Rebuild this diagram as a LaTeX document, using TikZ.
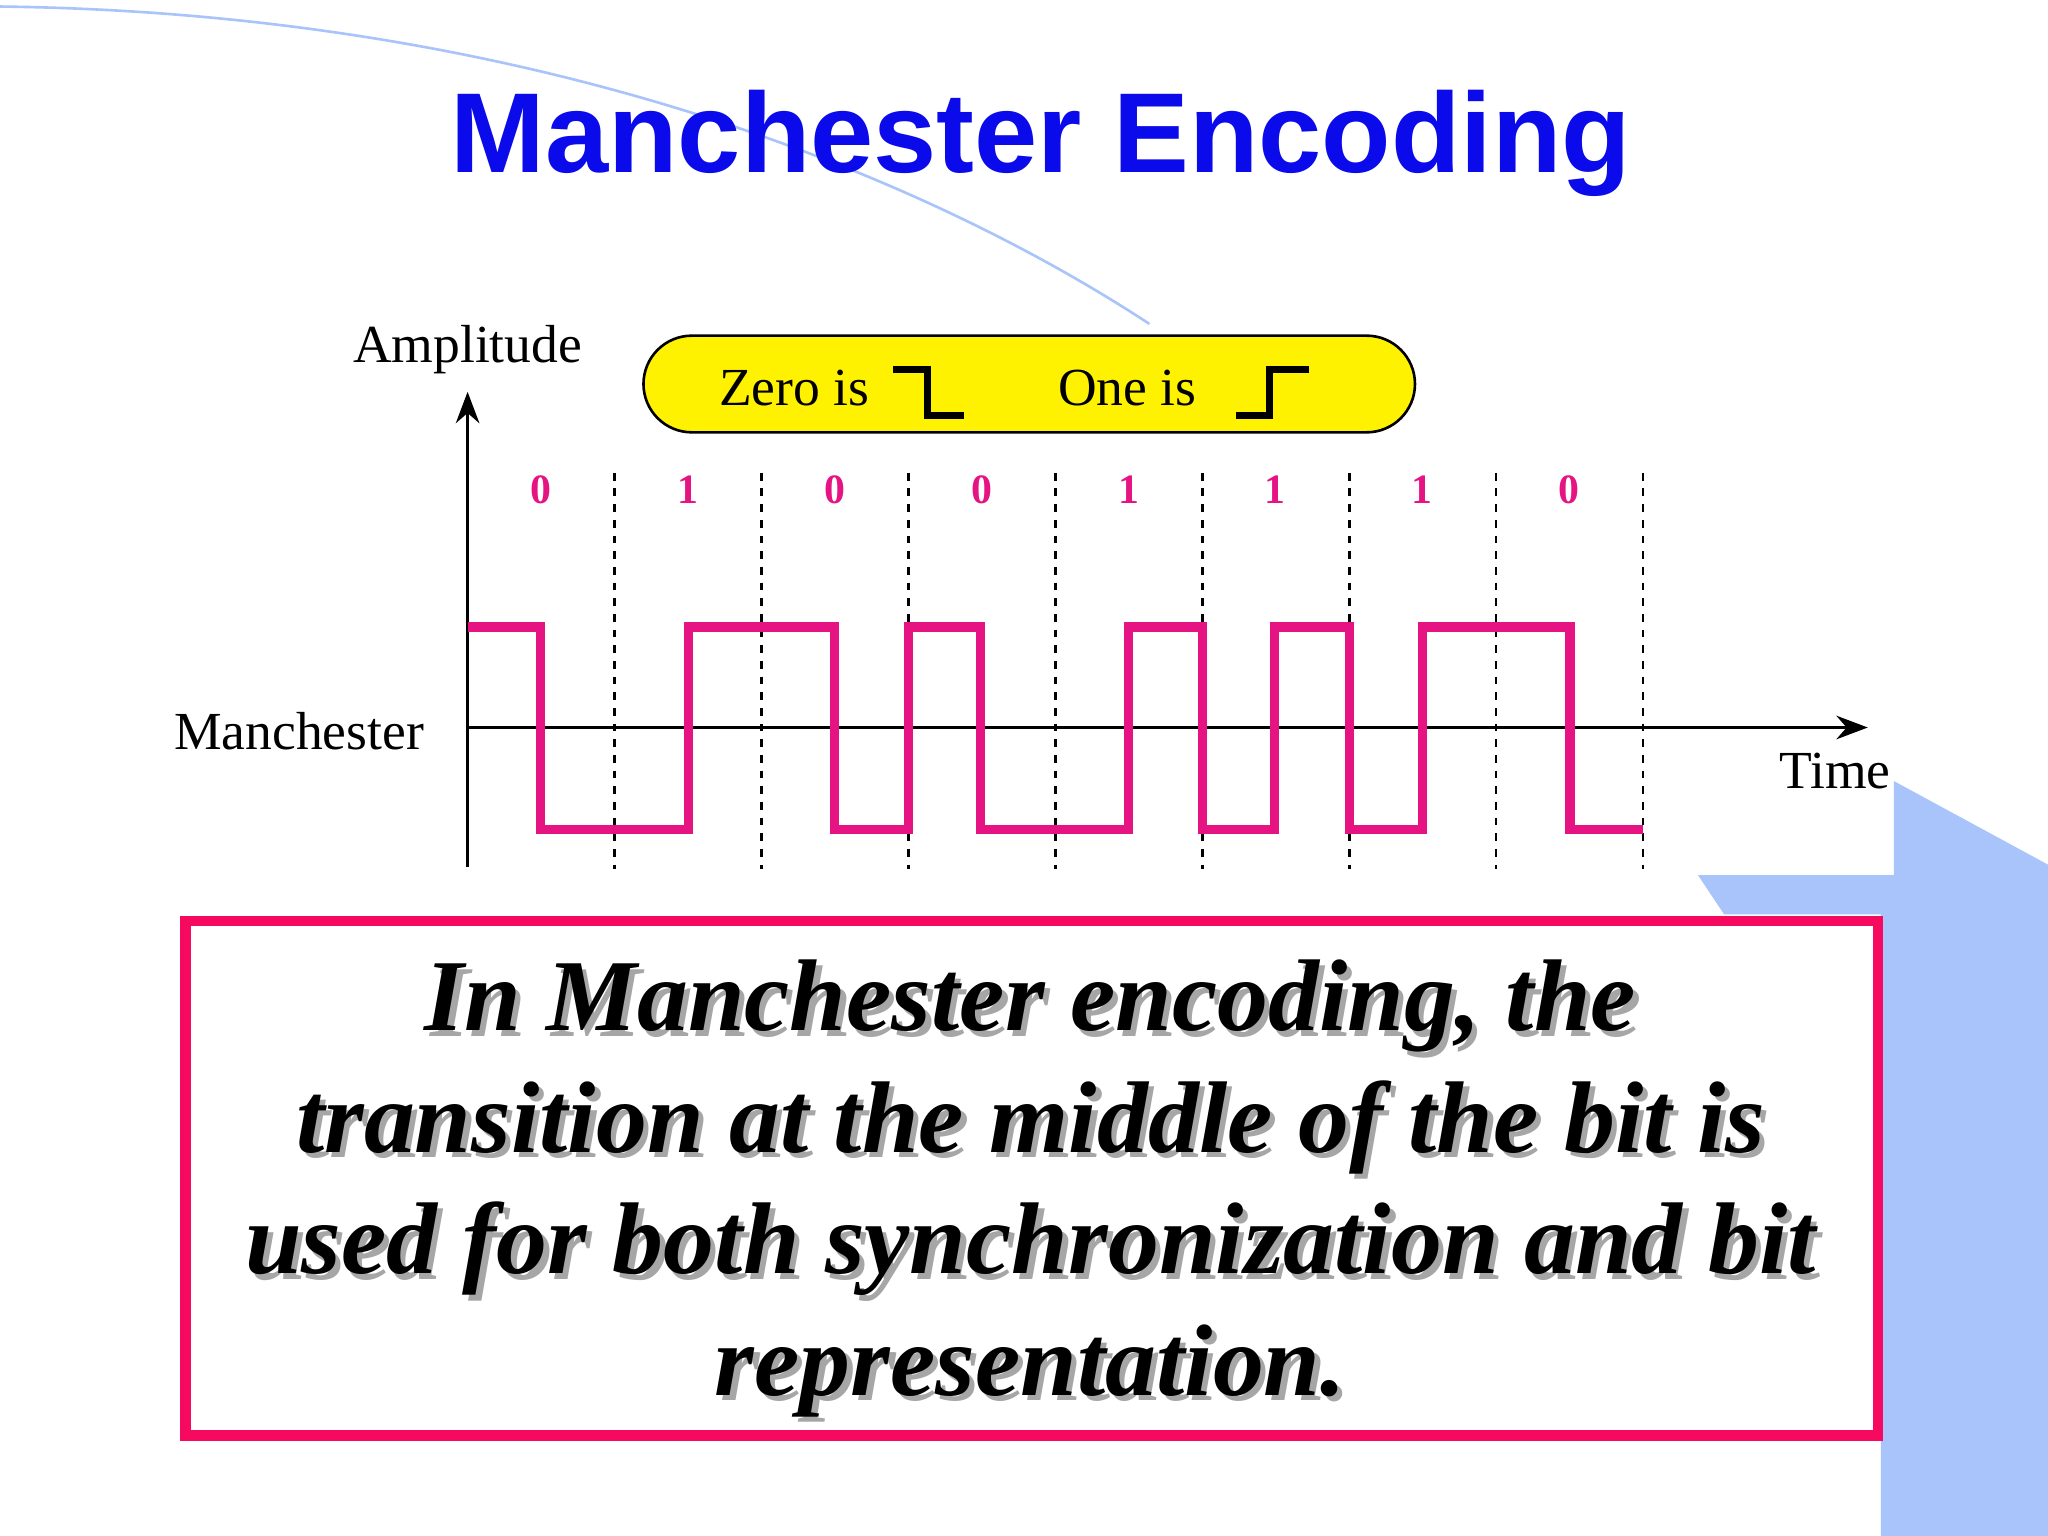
\documentclass[tikz,border=0pt]{standalone}
\usepackage{fontspec}
\setmainfont{Liberation Serif}
\newfontfamily\titlefont{Liberation Sans}
\usetikzlibrary{arrows.meta,shapes.misc}
\definecolor{sig}{RGB}{230,20,130}
\definecolor{boxred}{RGB}{245,10,95}
\definecolor{deco}{RGB}{168,196,250}
\definecolor{ttl}{RGB}{10,10,235}
\tikzset{
  lbl/.style={font=\fontsize{20.5}{23}\selectfont},
  bit/.style={font=\bfseries\fontsize{16}{18}\selectfont, text=sig},
  bound/.style={dashed, line width=1pt},
  ax/.style={line width=1.3pt, -{Stealth[length=12pt]}},
  msgtxt/.style={align=center, font=\bfseries\itshape\fontsize{39}{46.5}\selectfont},
}
\begin{document}
\begin{tikzpicture}[x=0.5pt,y=-0.5pt]
\useasboundingbox (0,0) rectangle (1568,1176);
\fill[white] (0,0) rectangle (1568,1176);
% decoration
\draw[deco, line width=1pt] (0,5) .. controls (400,10) and (700,130) .. (880,248);
\fill[deco] (1300,670) -- (1450,670) -- (1450,598) -- (1568,662) -- (1568,1176) -- (1440,1176) -- (1440,700) -- (1320,700) -- cycle;
% title
\node[text=ttl, font=\titlefont\bfseries\fontsize{43.5}{46}\selectfont] (title) at (797,110) {Manchester Encoding};
% legend
\node[draw, line width=1pt, fill=yellow, rounded rectangle, minimum width=302pt, minimum height=37pt] (leg) at (788,294) {};
\node[lbl] (zero) at (608,297) {Zero is};
\node[lbl] (one) at (863,297) {One is};
\draw[line width=2.5pt] (684,283) -- (710,283) -- (710,318) -- (738,318);
\draw[line width=2.5pt] (946,318) -- (972,318) -- (972,283) -- (1002,283);
% axes
\coordinate (o) at (358,557);
\coordinate (vb) at (358,664);
\coordinate (vt) at (358,300);
\coordinate (ht) at (1430,557);
\draw[ax] (vb) -- (vt);
\draw[ax] (o) -- (ht);
\node[lbl] (amp) at (358,268) {Amplitude};
\node[lbl] (man) at (229,560) {Manchester};
\node[lbl] (time) at (1405,590) {Time};
% boundaries and bits
\foreach \k in {1,...,8} \draw[bound] ({358+\k*112.5},362) -- ({358+\k*112.5},665);
\foreach \b [count=\k from 0] in {0,1,0,0,1,1,1,0}
  \node[bit] at ({414+\k*112.5},375) {\b};
% signal
\draw[sig, line width=3.5pt, line join=miter]
 (358,480) -- (414,480) -- (414,635) -- (527,635) -- (527,480) -- (639,480) -- (639,635)
 -- (695.5,635) -- (695.5,480) -- (751,480) -- (751,635) -- (864,635) -- (864,480)
 -- (920.5,480) -- (920.5,635) -- (976,635) -- (976,480) -- (1033,480) -- (1033,635)
 -- (1089,635) -- (1089,480) -- (1202,480) -- (1202,635) -- (1258,635);
% box
\draw[boxred, line width=4pt, fill=white] (142,705) rectangle (1438,1099);
\node[msgtxt, text=gray!70] (shadow) at (793,914) {In Manchester encoding, the\\transition at the middle of the bit is\\used for both synchronization and bit\\representation.};
\node[msgtxt] (msg) at (789,910) {In Manchester encoding, the\\transition at the middle of the bit is\\used for both synchronization and bit\\representation.};
\end{tikzpicture}
\end{document}
